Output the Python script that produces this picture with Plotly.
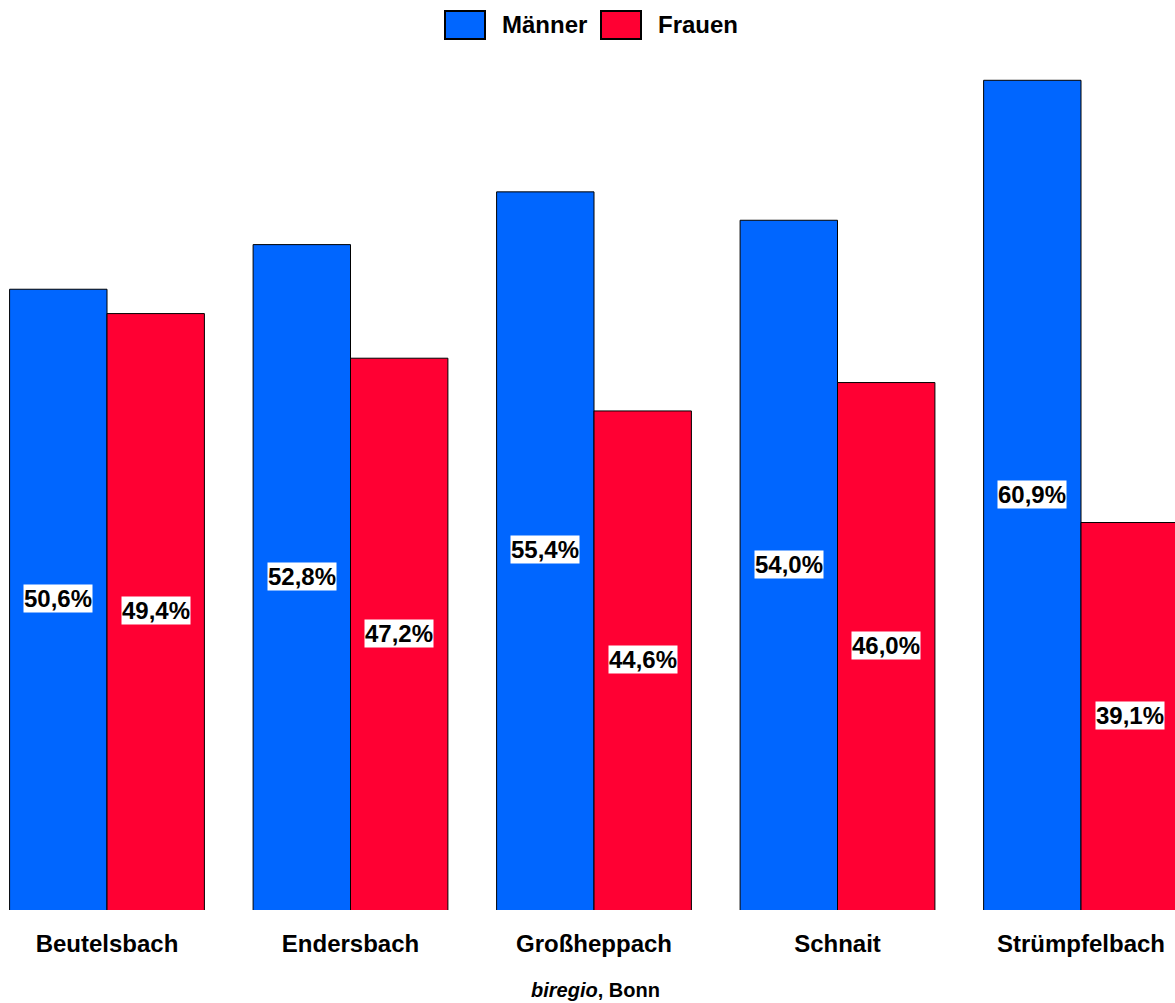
import plotly.graph_objects as go

categories = ["Beutelsbach", "Endersbach", "Großheppach", "Schnait", "Strümpfelbach"]
maenner = [50.6, 52.8, 55.4, 54.0, 60.9]
frauen = [49.4, 47.2, 44.6, 46.0, 39.1]
series_names = ["Männer", "Frauen"]
colors = ["#0066FF", "#FF0033"]

Y_MIN, Y_MAX = 20, 61.9
FONT = "Liberation Sans, Arial, sans-serif"
W, H = 1175, 1003
T, B = 60, 93
PH = H - T - B  # plot height in px


def py(px_from_top):
    """paper y coordinate from a pixel row."""
    return (H - B - px_from_top) / PH


fig = go.Figure()
for name, vals, col in zip(series_names, [maenner, frauen], colors):
    fig.add_trace(go.Bar(
        x=categories, y=vals, name=name,
        marker=dict(color=col, line=dict(color="black", width=1)),
        showlegend=False, hoverinfo="skip",
    ))

annotations = []
for si, vals in enumerate([maenner, frauen]):
    off = -0.2 if si == 0 else 0.2
    for i, v in enumerate(vals):
        annotations.append(dict(
            x=i + off, y=(v + Y_MIN) / 2, xref="x", yref="y",
            text=f"<b>{v:.1f}%</b>".replace(".", ","),
            showarrow=False, bgcolor="white", borderpad=0, yshift=1,
            font=dict(family=FONT, size=24, color="black"),
        ))

# custom legend (large swatches)
legend_items = [(445, 485, 500), (601, 641, 656)]
shapes = []
for (x0, x1, tx), name, col in zip(legend_items, series_names, colors):
    shapes.append(dict(type="rect", xref="paper", yref="paper",
                       x0=x0 / W, x1=x1 / W, y0=py(39), y1=py(11),
                       fillcolor=col, line=dict(color="black", width=2)))
    annotations.append(dict(x=tx / W, y=py(25), xref="paper", yref="paper",
                            xanchor="left", yanchor="middle", showarrow=False,
                            text=f"<b>{name}</b>",
                            font=dict(family=FONT, size=24, color="black")))

annotations.append(dict(x=595 / W, y=py(990), xref="paper", yref="paper",
                        xanchor="center", yanchor="middle", showarrow=False,
                        text="<b><i>biregio</i>, Bonn</b>",
                        font=dict(family=FONT, size=20, color="black")))

fig.update_layout(
    width=W, height=H,
    margin=dict(l=0, r=0, t=T, b=B),
    paper_bgcolor="white", plot_bgcolor="white",
    barmode="group", bargap=0.2, bargroupgap=0,
    xaxis=dict(range=[-0.4394, 4.386], showgrid=False, zeroline=False, showline=False,
               ticks="", ticklabelstandoff=17,
               tickfont=dict(family=FONT, size=24, color="black"),
               tickvals=categories,
               ticktext=[f"<b>{c}</b>" for c in categories]),
    yaxis=dict(range=[Y_MIN, Y_MAX], showgrid=False, zeroline=False,
               showline=False, showticklabels=False, ticks=""),
    annotations=annotations, shapes=shapes,
)

fig.write_html("out.html")
